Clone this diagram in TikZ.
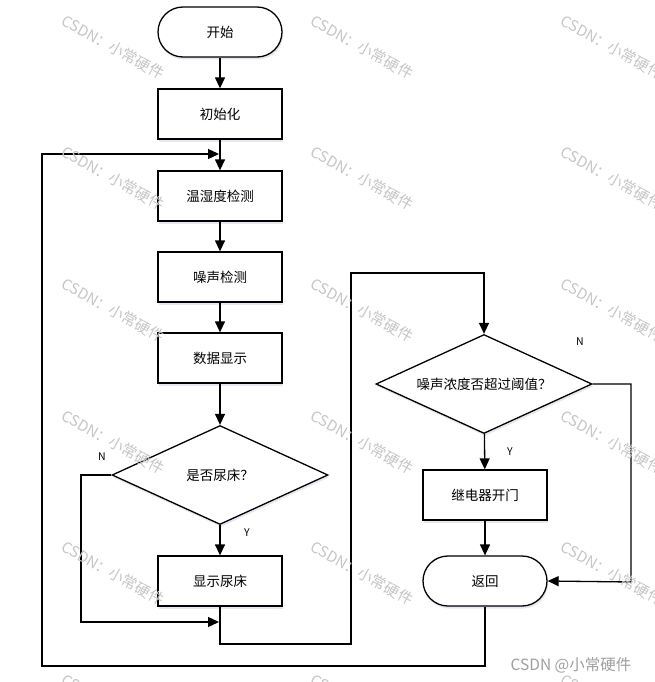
\documentclass[tikz,border=0pt]{standalone}
\usepackage{fontspec}
\setmainfont{Noto Sans CJK SC}
\usetikzlibrary{shapes.geometric,arrows.meta,shadows}
\begin{document}
\begin{tikzpicture}[x=1pt,y=-1pt,
  line width=1.3pt,
  shd/.style={drop shadow={shadow xshift=1pt,shadow yshift=-2.5pt,fill=blue!30!gray!40,opacity=0.35}},
  box/.style={draw,fill=white,shd,minimum width=124pt,minimum height=50pt,inner sep=0pt,font=\fontsize{13.5}{15}\selectfont},
  term/.style={box,rounded corners=25pt},
  dec/.style={diamond,draw,fill=white,shd,aspect=2.2,minimum width=216pt,minimum height=99pt,inner sep=0pt,font=\fontsize{13.5}{15}\selectfont},
  arr/.style={-{Triangle[length=11pt,width=10pt]}},
  lbl/.style={font=\fontsize{10.5}{12}\selectfont},
  wm/.style={text=gray!45,rotate=-29,font=\fontsize{15}{17}\selectfont,inner sep=0pt}
]
\clip (0,0) rectangle (655,682);
\fill[white] (0,0) rectangle (655,682);

% nodes
\node[term] (start) at (220,32) {开始};
\node[box] (init) at (220,114) {初始化};
\node[box] (temp) at (220,196) {温湿度检测};
\node[box] (noise) at (220,277) {噪声检测};
\node[box] (disp) at (220,358) {数据显示};
\node[dec] (dec1) at (220,475) {是否尿床？};
\node[box] (show) at (220,581) {显示尿床};
\node[dec] (dec2) at (484,384) {噪声浓度否超过阈值？};
\node[box] (relay) at (485,495) {继电器开门};
\node[term] (ret) at (485,581) {返回};

% junction coordinates
\coordinate (j1) at (220,154);
\coordinate (j2) at (220,622);
\coordinate (b1) at (220,644);
\coordinate (b2) at (351,644);
\coordinate (b3) at (351,273);
\coordinate (b4) at (484,273);
\coordinate (n1) at (81,475);
\coordinate (n2) at (81,622);
\coordinate (r1) at (631,384);
\coordinate (r2) at (631,582);
\coordinate (l1) at (485,666);
\coordinate (l2) at (42,666);
\coordinate (l3) at (42,154);

% connectors
\draw[arr] (start) -- (init);
\draw[arr] (init) -- (temp);
\draw[arr] (temp) -- (noise);
\draw[arr] (noise) -- (disp);
\draw[arr] (disp) -- (dec1);
\draw[arr] (dec1) -- (show);
\draw[arr,shorten >=1pt] (dec1.west) -- (n1) -- (n2) -- (j2);
\draw[arr] (show.south) -- (b1) -- (b2) -- (b3) -- (b4) -- (dec2.north);
\draw[arr] (dec2) -- (relay);
\draw[arr] (relay) -- (ret);
\draw[arr] (dec2.east) -- (r1) -- (r2) -- (ret.east);
\draw[arr,shorten >=1pt] (ret.south) -- (l1) -- (l2) -- (l3) -- (j1);

% labels
\node[lbl] (nA) at (102,457) {N};
\node[lbl] (yA) at (247,533) {Y};
\node[lbl] (nB) at (580,342) {N};
\node[lbl] (yB) at (510,452) {Y};

% watermarks
\foreach \cx in {113,362,612}{
  \foreach \cy in {47,178,310,442,573,706}{
    \node[wm] at (\cx,\cy) {CSDN：小常硬件};
  }
}
\node[text=gray!75,font=\fontsize{15.5}{17}\selectfont,inner sep=0pt] (mark) at (571,665) {CSDN @小常硬件};
\end{tikzpicture}
\end{document}
